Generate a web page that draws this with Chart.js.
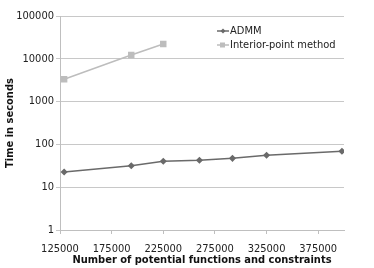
<!DOCTYPE html>
<html>
<head>
<meta charset="utf-8">
<script src="https://cdn.jsdelivr.net/npm/chart.js@4"></script>
<style>
  html, body { margin: 0; padding: 0; background: #fff; }
  #wrap { width: 374px; height: 268px; }
</style>
</head>
<body>
<div id="wrap"><canvas id="timeChart" width="374" height="268"></canvas></div>
<script>
// Problem sizes (x) and run times in seconds (y, log scale)
const admmSizes = [129000, 194000, 225000, 260000, 292000, 325000, 398000];
const admmTimes = [22.6, 31.8, 40.3, 42.5, 47.3, 55.6, 69];
const ipmSizes = [129000, 194000, 225000];
const ipmTimes = [3320, 12270, 22170];
const xTicks = [125000, 175000, 225000, 275000, 325000, 375000];
const yTicks = [1, 10, 100, 1000, 10000, 100000];

const FONT = '"Liberation Sans Narrow", "DejaVu Sans Condensed", "Liberation Sans", sans-serif';

// simple legend drawn inside the plot, top right
const insideLegend = {
  id: 'insideLegend',
  afterDraw(chart) {
    const ctx = chart.ctx;
    const a = chart.chartArea;
    const x0 = a.left + 157;
    let y = a.top + 15;
    ctx.save();
    ctx.font = '11px ' + FONT;
    ctx.textBaseline = 'middle';
    chart.data.datasets.forEach(ds => {
      ctx.strokeStyle = ds.borderColor;
      ctx.lineWidth = 1.5;
      ctx.beginPath();
      ctx.moveTo(x0, y);
      ctx.lineTo(x0 + 12, y);
      ctx.stroke();
      ctx.fillStyle = ds.borderColor;
      if (ds.pointStyle === 'rect') {
        ctx.fillRect(x0 + 3, y - 2.5, 5, 5);
      } else {
        ctx.beginPath();
        ctx.moveTo(x0 + 6, y - 2.5);
        ctx.lineTo(x0 + 8.5, y);
        ctx.lineTo(x0 + 6, y + 2.5);
        ctx.lineTo(x0 + 3.5, y);
        ctx.closePath();
        ctx.fill();
      }
      ctx.fillStyle = '#222';
      ctx.fillText(ds.label, x0 + 13, y);
      y += 14;
    });
    ctx.restore();
  }
};

new Chart(document.getElementById('timeChart'), {
  type: 'line',
  data: {
    datasets: [
      {
        label: 'ADMM',
        data: admmSizes.map((x, i) => ({ x, y: admmTimes[i] })),
        borderColor: '#6a6a6a',
        backgroundColor: '#6a6a6a',
        borderWidth: 1.5,
        pointStyle: 'rectRot',
        pointRadius: 2.5,
        tension: 0
      },
      {
        label: 'Interior-point method',
        data: ipmSizes.map((x, i) => ({ x, y: ipmTimes[i] })),
        borderColor: '#bdbdbd',
        backgroundColor: '#bdbdbd',
        borderWidth: 1.5,
        pointStyle: 'rect',
        pointRadius: 3.5,
        tension: 0
      }
    ]
  },
  options: {
    responsive: false,
    animation: false,
    layout: { padding: { top: 16, right: 30, left: 0, bottom: 1 } },
    plugins: { legend: { display: false }, tooltip: { enabled: false } },
    scales: {
      x: {
        type: 'linear',
        min: 125000,
        max: 400000,
        afterBuildTicks: s => { s.ticks = xTicks.map(v => ({ value: v })); },
        afterFit: s => { s.height = 37; },
        ticks: {
          color: '#222',
          font: { family: FONT, size: 11 },
          padding: 9,
          maxRotation: 0,
          callback: v => String(v)
        },
        grid: { drawOnChartArea: false, tickLength: 4, color: '#bfbfbf' },
        border: { color: '#bfbfbf' },
        title: {
          display: true,
          text: 'Number of potential functions and constraints',
          color: '#111',
          font: { family: FONT, size: 11, weight: 'bold' },
          padding: { top: 0, bottom: 0 }
        }
      },
      y: {
        type: 'logarithmic',
        min: 1,
        max: 100000,
        afterBuildTicks: s => { s.ticks = yTicks.map(v => ({ value: v })); },
        afterFit: s => { s.width = 60; },
        ticks: {
          color: '#222',
          font: { family: FONT, size: 11 },
          padding: 2,
          callback: v => String(v)
        },
        grid: { color: '#c8c8c8', tickLength: 4 },
        border: { color: '#bfbfbf' },
        title: {
          display: true,
          text: 'Time in seconds',
          color: '#111',
          font: { family: FONT, size: 11, weight: 'bold' },
          padding: { top: 4, bottom: 2 }
        }
      }
    }
  },
  plugins: [insideLegend]
});
</script>
</body>
</html>
